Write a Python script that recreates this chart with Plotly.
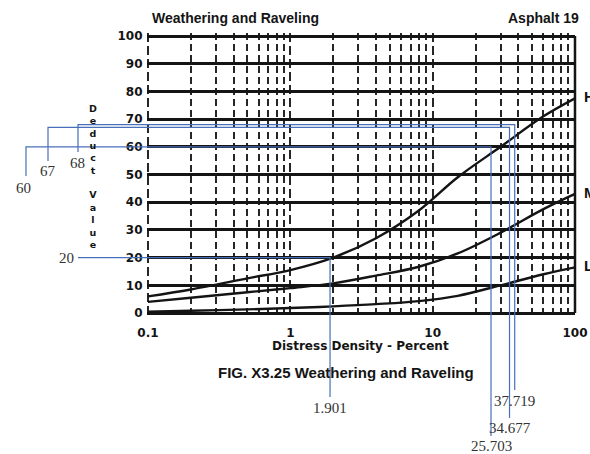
import math
import plotly.graph_objects as go

# ---------------- data ----------------
# Deduct-value curves for Weathering and Raveling (H / M / L severity)
H_density = [0.1, 0.2, 0.5, 1, 2, 4, 8, 15, 30, 60, 100]
H_deduct = [6, 8.5, 12.5, 15.5, 20, 27, 37, 49, 60, 71, 77.5]
M_density = [0.1, 0.2, 0.5, 1, 2, 4, 8, 15, 30, 60, 100]
M_deduct = [4, 5.5, 7.5, 9, 10.7, 13.5, 16.7, 21.5, 29, 37.5, 43]
L_density = [0.1, 0.2, 0.5, 1, 2, 4, 8, 15, 30, 60, 100]
L_deduct = [0.5, 0.8, 1.3, 1.8, 2.4, 3.2, 4.3, 6.2, 10, 14, 16.5]
severity_labels = ["H", "M", "L"]

# hand-drawn readings (deduct value -> density)
reading_deduct = [20, 60, 67, 68]
reading_density = [1.901, 25.703, 34.677, 37.719]
reading_deduct_text = ["20", "60", "67", "68"]
reading_density_text = ["1.901", "25.703", "34.677", "37.719"]

x_tick_vals = [0.1, 1, 10, 100]
x_tick_text = ["0.1", "1", "10", "100"]
x_minor_vals = [m * d for d in (0.1, 1, 10) for m in range(2, 10)]
y_tick_vals = list(range(0, 101, 10))

# ---------------- layout constants (window pixels) ----------------
W, H = 590, 454
OFF = 0                    # page body margin is removed by post_script
X_LEFT_PX = 148.0          # window pixel of density 0.1
PX_PER_DECADE = 142.33
Y_ZERO_PX = 313.0          # window pixel of deduct 0
PX_PER_UNIT = 2.77

def px_to_logx(px):
    return -1 + (px - X_LEFT_PX) / PX_PER_DECADE

def logx_to_px(lx):
    return X_LEFT_PX + (lx + 1) * PX_PER_DECADE

def py_to_val(py):
    return (Y_ZERO_PX - py) / PX_PER_UNIT

def val_to_py(v):
    return Y_ZERO_PX - v * PX_PER_UNIT

def paper_x(px):
    return (px - OFF) / W

def paper_y(py):
    return 1 - (py - OFF) / H

x_range = [-1.01, 2.0]
y_range = [-1.0, 101.0]
x_dom = [paper_x(logx_to_px(x_range[0])), paper_x(logx_to_px(x_range[1]))]
y_dom = [paper_y(val_to_py(y_range[0])), paper_y(val_to_py(y_range[1]))]

# bracket geometry for readings (window pixels): left end x, left end y, left label centre,
# bottom end y, bottom label centre y
BRACKETS = {
    "20": dict(left_x=78, left_y=None, label=(66, None), bottom_end=397, bottom_label=408),
    "60": dict(left_x=26, left_y=176, label=(23, 188), bottom_end=436, bottom_label=446),
    "67": dict(left_x=48, left_y=161, label=(48, 171), bottom_end=418, bottom_label=428),
    "68": dict(left_x=78, left_y=152, label=(77, 163), bottom_end=390, bottom_label=401),
}

BLACK = "#141414"
BLUE = "#4a6fba"
SANS = "Liberation Sans"
DEJAVU = "DejaVu Sans"
SERIF = "Liberation Serif"

fig = go.Figure()

for xs, ys in ((H_density, H_deduct), (M_density, M_deduct), (L_density, L_deduct)):
    fig.add_trace(go.Scatter(x=xs, y=ys, mode="lines",
                             line=dict(color=BLACK, width=2.4, shape="spline", smoothing=1.0),
                             hoverinfo="skip", showlegend=False))

# reading brackets on a full-figure overlay axis pair (same scale as the chart)
for dv, dens, dtxt, ntxt in zip(reading_deduct, reading_density, reading_deduct_text, reading_density_text):
    b = BRACKETS[dtxt]
    xs, ys = [], []
    xl = 10 ** px_to_logx(b["left_x"])
    if b["left_y"] is not None:
        xs.append(xl); ys.append(py_to_val(b["left_y"]))
    xs += [xl, dens, dens]
    ys += [dv, dv, py_to_val(b["bottom_end"])]
    fig.add_trace(go.Scatter(x=xs, y=ys, xaxis="x2", yaxis="y2", mode="lines",
                             line=dict(color=BLUE, width=1.2),
                             hoverinfo="skip", showlegend=False))
    lx, ly = b["label"]
    fig.add_annotation(text=dtxt, xref="paper", yref="paper",
                       x=paper_x(lx), y=paper_y(ly if ly is not None else val_to_py(dv)),
                       xanchor="center", yanchor="middle", showarrow=False,
                       font=dict(family=SERIF, size=15, color="#333333"))
    fig.add_annotation(text=ntxt, xref="x2", yref="paper",
                       x=math.log10(dens), y=paper_y(b["bottom_label"]),
                       xanchor="center", yanchor="middle", showarrow=False,
                       font=dict(family=SERIF, size=15, color="#333333"))

# right border of chart
fig.add_shape(type="line", xref="x domain", yref="y", x0=1, x1=1, y0=0, y1=100,
              line=dict(color=BLACK, width=2.5))

# texts
fig.add_annotation(text="Weathering and Raveling", xref="paper", yref="paper",
                   x=paper_x(150), y=paper_y(18), xanchor="left", yanchor="middle", showarrow=False,
                   font=dict(family=SANS, size=14, color=BLACK, weight="bold"))
fig.add_annotation(text="Asphalt 19", xref="paper", yref="paper",
                   x=paper_x(581), y=paper_y(18), xanchor="right", yanchor="middle", showarrow=False,
                   font=dict(family=SANS, size=14, color=BLACK, weight="bold"))
fig.add_annotation(text="Distress Density - Percent", xref="paper", yref="paper",
                   x=paper_x(360), y=paper_y(346), xanchor="center", yanchor="middle", showarrow=False,
                   font=dict(family=DEJAVU, size=12, color=BLACK, weight="bold"))
fig.add_annotation(text="FIG. X3.25 Weathering and Raveling", xref="paper", yref="paper",
                   x=paper_x(346), y=paper_y(372), xanchor="center", yanchor="middle", showarrow=False,
                   font=dict(family=SANS, size=15, color=BLACK, weight="bold"))
fig.add_annotation(text="<br>".join(list("Deduct") + ["&nbsp;"] + list("Value")),
                   xref="paper", yref="paper", x=paper_x(93), y=paper_y(176),
                   xanchor="center", yanchor="middle", showarrow=False,
                   font=dict(family=DEJAVU, size=9.5, color=BLACK, weight="bold"))
for lab, ys in zip(severity_labels, (H_deduct, M_deduct, L_deduct)):
    fig.add_annotation(text=lab, xref="paper", yref="y", x=paper_x(582), y=ys[-1] + 0.5,
                       xanchor="left", yanchor="middle", showarrow=False,
                       font=dict(family=SANS, size=15, color=BLACK, weight="bold"))

tickfont = dict(family=DEJAVU, size=12, color=BLACK, weight="bold")
fig.update_layout(
    width=W, height=H,
    margin=dict(l=0, r=0, t=0, b=0, autoexpand=False),
    paper_bgcolor="white", plot_bgcolor="rgba(0,0,0,0)",
    showlegend=False,
    xaxis=dict(type="log", range=x_range, domain=x_dom, anchor="y", automargin=False,
               tickvals=x_tick_vals, ticktext=x_tick_text, tickfont=tickfont,
               ticks="", ticklabelstandoff=8, showline=False, zeroline=False,
               showgrid=True, gridcolor="#262626", gridwidth=2, griddash="9px,4px",
               minor=dict(tickvals=x_minor_vals, showgrid=True, gridcolor="#262626",
                          gridwidth=2, griddash="7px,4px", ticks="")),
    yaxis=dict(range=y_range, domain=y_dom, anchor="x", automargin=False,
               tickvals=y_tick_vals, tickfont=tickfont, ticks="", ticklabelstandoff=3,
               showline=False, zeroline=False,
               showgrid=True, gridcolor=BLACK, gridwidth=3),
    xaxis2=dict(type="log", domain=[0, 1], anchor="y2", visible=False, automargin=False,
                range=[px_to_logx(OFF), px_to_logx(W + OFF)]),
    yaxis2=dict(domain=[0, 1], anchor="x2", visible=False, automargin=False,
                range=[py_to_val(H + OFF), py_to_val(OFF)]),
)

fig.write_html("out.html",
               config={"displayModeBar": False, "staticPlot": True},
               post_script="document.body.style.margin='0';document.body.style.overflow='hidden';")
